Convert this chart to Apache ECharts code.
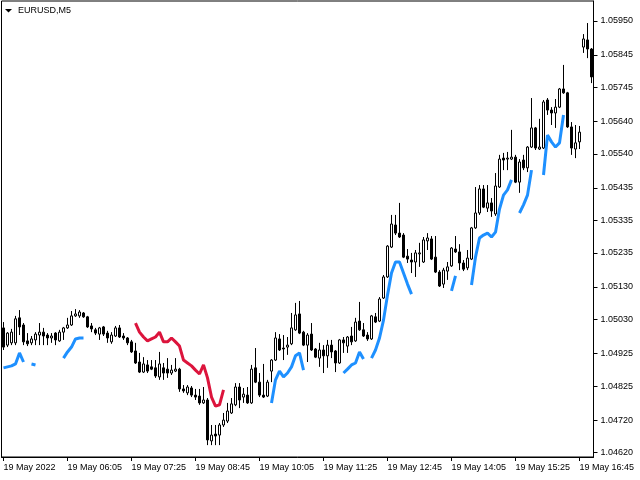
<!DOCTYPE html>
<html>
<head>
<meta charset="utf-8">
<script src="https://cdn.jsdelivr.net/npm/echarts@6/dist/echarts.min.js"></script>
<style>html,body{margin:0;padding:0;background:#fff}#c{width:640px;height:480px}</style>
</head>
<body>
<div id="c"></div>
<script>
const symbolTitle = 'EURUSD,M5';
const startTime = '04:45';
const barCount = 148;
const xTickLabels = ['19 May 2022','19 May 06:05','19 May 07:25','19 May 08:45','19 May 10:05','19 May 11:25','19 May 12:45','19 May 14:05','19 May 15:25','19 May 16:45'];
const yTickValues = [1.04620,1.04720,1.04825,1.04925,1.05030,1.05130,1.05235,1.05335,1.05435,1.05540,1.05640,1.05745,1.05845,1.05950];

const open = [1.05004,1.04951,1.04958,1.04958,1.05035,1.05013,1.04964,1.04958,1.04967,1.04982,
1.04991,1.04982,1.04973,1.04988,1.04964,1.04991,1.05004,1.05013,1.05041,1.05041,
1.05050,1.05038,1.05010,1.04998,1.04985,1.05007,1.04988,1.04961,1.04979,1.05004,
1.04979,1.04973,1.04961,1.04933,1.04899,1.04868,1.04890,1.04884,1.04881,1.04853,
1.04881,1.04877,1.04865,1.04871,1.04877,1.04816,1.04804,1.04819,1.04797,1.04794,
1.04773,1.04782,1.04656,1.04677,1.04674,1.04705,1.04717,1.04742,1.04767,1.04822,
1.04791,1.04797,1.04773,1.04881,1.04837,1.04797,1.04794,1.04871,1.04905,1.04970,
1.04942,1.04945,1.04955,1.04998,1.05047,1.04991,1.04951,1.04985,1.04939,1.04911,
1.04936,1.04918,1.04951,1.04933,1.04896,1.04967,1.04948,1.04979,1.04964,1.05025,
1.04998,1.04982,1.04970,1.05038,1.05025,1.05096,1.05161,1.05253,1.05321,1.05296,
1.05290,1.05225,1.05213,1.05207,1.05232,1.05207,1.05272,1.05278,1.05222,1.05176,
1.05139,1.05179,1.05195,1.05247,1.05238,1.05204,1.05189,1.05216,1.05312,1.05358,
1.05432,1.05373,1.05389,1.05355,1.05438,1.05527,1.05524,1.05524,1.05530,1.05453,
1.05521,1.05497,1.05561,1.05620,1.05555,1.05558,1.05706,1.05675,1.05666,1.05684,
1.05740,1.05728,1.05623,1.05555,1.05577,1.05869,1.05891,1.05863];

const close = [1.04945,1.04988,1.04991,1.05032,1.05007,1.04961,1.04955,1.04970,1.04985,1.04991,
1.04979,1.04973,1.04979,1.04967,1.04991,1.05004,1.05013,1.05041,1.05047,1.05053,
1.05038,1.05007,1.05001,1.04988,1.05004,1.04985,1.04973,1.04982,1.05004,1.04976,
1.04973,1.04958,1.04930,1.04896,1.04868,1.04893,1.04871,1.04877,1.04856,1.04893,
1.04865,1.04865,1.04874,1.04877,1.04816,1.04810,1.04822,1.04797,1.04791,1.04773,
1.04782,1.04659,1.04674,1.04671,1.04705,1.04720,1.04748,1.04770,1.04822,1.04782,
1.04800,1.04773,1.04877,1.04837,1.04797,1.04791,1.04837,1.04905,1.04973,1.04936,
1.04939,1.04951,1.05004,1.05044,1.04988,1.04951,1.04982,1.04936,1.04914,1.04936,
1.04918,1.04951,1.04930,1.04896,1.04967,1.04958,1.04976,1.04961,1.05022,1.04998,
1.04979,1.04970,1.05041,1.05022,1.05093,1.05161,1.05256,1.05324,1.05296,1.05284,
1.05222,1.05216,1.05207,1.05235,1.05235,1.05275,1.05281,1.05216,1.05176,1.05133,
1.05182,1.05192,1.05250,1.05238,1.05204,1.05185,1.05219,1.05312,1.05358,1.05432,
1.05376,1.05389,1.05364,1.05441,1.05524,1.05521,1.05527,1.05530,1.05453,1.05515,
1.05497,1.05561,1.05620,1.05558,1.05561,1.05700,1.05675,1.05666,1.05684,1.05740,
1.05728,1.05623,1.05558,1.05574,1.05607,1.05894,1.05863,1.05777];

const high = [1.05022,1.04991,1.05001,1.05041,1.05059,1.05019,1.04988,1.04979,1.04991,1.05019,
1.05004,1.04988,1.04988,1.04991,1.04998,1.05007,1.05035,1.05056,1.05062,1.05059,
1.05053,1.05041,1.05019,1.05004,1.05007,1.05010,1.04995,1.04991,1.05010,1.05013,
1.04988,1.04976,1.04967,1.04958,1.04927,1.04914,1.04905,1.04905,1.04905,1.04930,
1.04896,1.04911,1.04890,1.04911,1.04881,1.04828,1.04828,1.04825,1.04816,1.04816,
1.04822,1.04788,1.04705,1.04705,1.04711,1.04742,1.04773,1.04788,1.04834,1.04834,
1.04819,1.04822,1.04890,1.04942,1.04865,1.04893,1.04844,1.04908,1.04991,1.04985,
1.04982,1.04976,1.05050,1.05081,1.05087,1.04995,1.04988,1.05019,1.04942,1.04958,
1.04951,1.04967,1.04967,1.04936,1.04970,1.04976,1.04979,1.05007,1.05035,1.05084,
1.05019,1.04991,1.05044,1.05050,1.05099,1.05167,1.05259,1.05352,1.05352,1.05389,
1.05296,1.05247,1.05235,1.05244,1.05266,1.05284,1.05296,1.05287,1.05287,1.05182,
1.05189,1.05207,1.05253,1.05287,1.05262,1.05213,1.05244,1.05315,1.05438,1.05444,
1.05444,1.05444,1.05404,1.05481,1.05537,1.05543,1.05546,1.05614,1.05537,1.05524,
1.05537,1.05564,1.05712,1.05623,1.05648,1.05706,1.05712,1.05684,1.05709,1.05743,
1.05814,1.05731,1.05638,1.05629,1.05626,1.05909,1.05943,1.05866];

const low = [1.04936,1.04945,1.04951,1.04951,1.04982,1.04951,1.04948,1.04951,1.04951,1.04951,
1.04951,1.04951,1.04958,1.04951,1.04961,1.04967,1.05001,1.05010,1.05038,1.05035,
1.05035,1.05004,1.04991,1.04982,1.04967,1.04979,1.04958,1.04955,1.04976,1.04973,
1.04967,1.04951,1.04927,1.04893,1.04865,1.04865,1.04865,1.04874,1.04850,1.04844,
1.04844,1.04850,1.04859,1.04868,1.04807,1.04804,1.04797,1.04791,1.04782,1.04767,
1.04770,1.04643,1.04643,1.04643,1.04643,1.04699,1.04711,1.04739,1.04763,1.04757,
1.04773,1.04770,1.04770,1.04834,1.04791,1.04788,1.04791,1.04837,1.04902,1.04933,
1.04905,1.04921,1.04951,1.04995,1.04985,1.04948,1.04899,1.04933,1.04911,1.04884,
1.04865,1.04881,1.04911,1.04868,1.04893,1.04927,1.04927,1.04951,1.04961,1.04995,
1.04976,1.04964,1.04967,1.05019,1.05022,1.05093,1.05158,1.05250,1.05290,1.05281,
1.05219,1.05204,1.05173,1.05161,1.05192,1.05204,1.05244,1.05213,1.05173,1.05130,
1.05127,1.05152,1.05192,1.05235,1.05182,1.05179,1.05182,1.05213,1.05309,1.05352,
1.05373,1.05361,1.05346,1.05349,1.05435,1.05490,1.05490,1.05521,1.05450,1.05420,
1.05490,1.05484,1.05558,1.05552,1.05552,1.05555,1.05660,1.05629,1.05620,1.05681,
1.05725,1.05620,1.05537,1.05527,1.05555,1.05851,1.05835,1.05758];

// indicator segments: [first bar index, values]
const blueSegments = [
  [0,   [1.04881,1.04884,1.04887,1.04893,1.04927,1.04899]],
  [7,   [1.04893,1.04890]],
  [15,  [1.04911,1.04930,1.04945,1.04970,1.04973,1.04973]],
  [67,  [1.04773,1.04844,1.04871,1.04853,1.04865,1.04884,1.04918,1.04927,1.04874]],
  [85,  [1.04865,1.04877,1.04890,1.04896,1.04930,1.04908]],
  [92,  [1.04911,1.04936,1.04973,1.05028,1.05105,1.05173,1.05207,1.05207,1.05173,1.05139,1.05108]],
  [112, [1.05118,1.05164]],
  [117, [1.05136,1.05222,1.05281,1.05290,1.05296,1.05284,1.05299,1.05370,1.05413,1.05429,1.05460]],
  [129, [1.05358,1.05383,1.05413,1.05490]],
  [135, [1.05475,1.05598,1.05577,1.05561,1.05574,1.05660]]
];
const redSegments = [
  [33, [1.05019,1.04991,1.04976,1.04964,1.04970,1.04976,1.04991,1.04961,1.04961,1.04973,1.04961,1.04948,
        1.04905,1.04896,1.04887,1.04874,1.04862,1.04890,1.04850,1.04791,1.04763,1.04767,1.04813]]
];

function buildLine(segs) {
  const arr = new Array(barCount).fill(null);
  segs.forEach(([s, vals]) => vals.forEach((v, i) => { arr[s + i] = v; }));
  return arr;
}

const categories = [];
{
  let [h, m] = startTime.split(':').map(Number);
  for (let i = 0; i < barCount; i++) {
    categories.push('19 May ' + String(h).padStart(2,'0') + ':' + String(m).padStart(2,'0'));
    m += 5; if (m >= 60) { m -= 60; h++; }
  }
}
const candleData = open.map((o, i) => [o, close[i], low[i], high[i]]);

const FONT = 'Liberation Sans';
const chart = echarts.init(document.getElementById('c'), null, {renderer: 'canvas'});
chart.setOption({
  animation: false,
  backgroundColor: '#fff',
  grid: {left: 1.5, right: 46.5, top: 1, bottom: 23, show: true, borderColor: '#000', borderWidth: 1, backgroundColor: 'transparent'},
  xAxis: {
    type: 'category',
    data: categories,
    boundaryGap: true,
    axisLine: {show: true, lineStyle: {color: '#000', width: 1}},
    axisTick: {show: true, alignWithLabel: true, interval: 15, length: 4, lineStyle: {color: '#000'}},
    axisLabel: {
      interval: 15, align: 'left', margin: 6, color: '#000',
      fontFamily: FONT, fontSize: 9,
      formatter: (v, i) => xTickLabels[Math.round(i / 16)]
    },
    splitLine: {show: false}
  },
  yAxis: {
    type: 'value',
    position: 'right',
    min: 1.046064, max: 1.060109,
    axisLine: {show: true, lineStyle: {color: '#000', width: 1}},
    axisTick: {show: true, length: 4, lineStyle: {color: '#000'}, customValues: yTickValues},
    axisLabel: {
      customValues: yTickValues, margin: 7, color: '#000',
      fontFamily: FONT, fontSize: 9,
      formatter: v => v.toFixed(5)
    },
    splitLine: {show: false}
  },
  series: [
    {
      type: 'candlestick',
      data: candleData,
      barWidth: 3,
      itemStyle: {color: '#fff', color0: '#000', borderColor: '#000', borderColor0: '#000', borderWidth: 1},
      z: 2
    },
    {
      type: 'line', data: buildLine(blueSegments), symbol: 'none', connectNulls: false,
      lineStyle: {color: '#1E90FF', width: 3}, z: 3
    },
    {
      type: 'line', data: buildLine(redSegments), symbol: 'none', connectNulls: false,
      lineStyle: {color: '#DC143C', width: 3}, z: 3
    }
  ],
  graphic: [
    {type: 'polygon', shape: {points: [[5, 9], [12, 9], [8.5, 12.5]]}, style: {fill: '#000'}},
    {type: 'text', left: 18, top: 6, style: {text: symbolTitle, font: '9px "Liberation Sans"', fill: '#000'}}
  ]
});
</script>
</body>
</html>
